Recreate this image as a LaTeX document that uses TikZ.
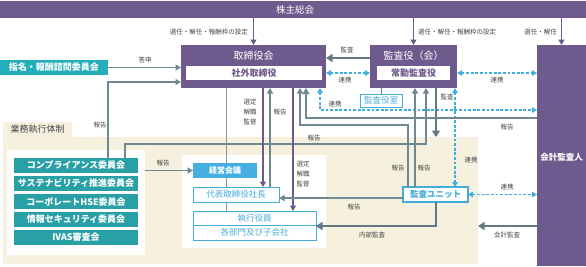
\documentclass[tikz,border=0pt]{standalone}
\usepackage{fontspec}
\setmainfont{Noto Sans CJK JP}
\usetikzlibrary{arrows.meta}
\pgfdeclarelayer{bg}
\pgfsetlayers{bg,main}
\definecolor{pur}{RGB}{110,90,140}
\definecolor{garr}{RGB}{112,136,146}
\definecolor{tarr}{RGB}{100,120,130}
\definecolor{cyd}{RGB}{60,175,225}
\definecolor{teal1}{RGB}{40,160,165}
\definecolor{teal2}{RGB}{35,175,185}
\definecolor{cyfill}{RGB}{70,175,225}
\definecolor{cyb}{RGB}{70,172,218}
\definecolor{tan}{RGB}{245,241,222}
\definecolor{labc}{RGB}{70,70,70}
\definecolor{thinl}{RGB}{140,150,155}
\begin{document}
\begin{tikzpicture}[x=1pt,y=-1pt,
  box/.style={inner sep=0pt, outer sep=0pt, anchor=north west},
  pbox/.style={box, fill=pur},
  wbox/.style={box, fill=white, text=pur, font=\fontsize{9}{10}\selectfont\bfseries},
  ttl/.style={inner sep=0pt, text=white, font=\fontsize{10}{11}\selectfont},
  cbox/.style={box, fill=teal1, text=white, font=\fontsize{9}{10}\selectfont\bfseries},
  obox/.style={box, fill=white, draw=cyb, line width=1pt, text=cyb, font=\fontsize{8.5}{10}\selectfont},
  lab/.style={inner sep=0pt, text=labc, font=\fontsize{6.5}{8}\selectfont},
  slab/.style={inner sep=0pt, text=labc, align=center, font=\fontsize{6.5}{10}\selectfont},
  parrow/.style={draw=pur, line width=1.8pt, -{Triangle[length=5.5pt,width=6pt]}},
  garrow/.style={draw=garr, line width=1.7pt, -{Triangle[length=5.5pt,width=6pt]}},
  marrow/.style={draw=garr, line width=2.3pt, -{Triangle[length=6pt,width=7pt]}},
  tarrow/.style={draw=tarr, line width=2.8pt, -{Triangle[length=6.5pt,width=8pt]}},
  darrow/.style={draw=cyd, line width=1.5pt, dash pattern=on 2.8pt off 1.8pt, {Triangle[length=5pt,width=5.5pt]}-{Triangle[length=5pt,width=5.5pt]}}
]
\useasboundingbox (0,0) rectangle (586,266);

% top bar
\node[pbox, minimum width=586, minimum height=17] (kabu) at (0,1) {};
\node[ttl, font=\fontsize{9.5}{11}\selectfont] (kabuT) at (295,10) {株主総会};

% board
\node[pbox, minimum width=145, minimum height=43] (tori) at (181,45) {};
\node[ttl] (toriT) at (253.5,55.5) {取締役会};
\node[wbox, minimum width=136, minimum height=14] (shagai) at (186,66) {社外取締役};

% auditors
\node[pbox, minimum width=87, minimum height=43] (kansa) at (370,45) {};
\node[ttl] (kansaT) at (413.5,55.5) {監査役（会）};
\node[wbox, minimum width=73, minimum height=14] (joukin) at (377,66) {常勤監査役};

% accounting auditor
\node[pbox, minimum width=49, minimum height=221] (kaikei) at (537,45) {};
\node[ttl, font=\fontsize{8.5}{10}\selectfont\bfseries] (kaikeiT) at (561.5,157) {会計監査人};

% nomination committee
\node[box, fill=teal2, text=white, font=\fontsize{9}{10}\selectfont\bfseries, minimum width=108, minimum height=15] (shimei) at (0,60) {指名・報酬諮問委員会};

% audit office
\node[obox, minimum width=42, minimum height=13, font=\fontsize{8.5}{10}\selectfont] (kshitsu) at (360,94) {監査役室};

% committees
\node[cbox, minimum width=124, minimum height=15] (comp) at (14,158) {コンプライアンス委員会};
\node[cbox, minimum width=124, minimum height=15] (sust) at (14,176) {サステナビリティ推進委員会};
\node[cbox, minimum width=124, minimum height=15] (corp) at (14,194) {コーポレートHSE委員会};
\node[cbox, minimum width=124, minimum height=15] (info) at (14,212) {情報セキュリティ委員会};
\node[cbox, minimum width=124, minimum height=15] (ivas) at (14,230) {IVAS審査会};

% execution
\node[box, fill=cyfill, text=white, font=\fontsize{8}{10}\selectfont\bfseries, minimum width=64, minimum height=15] (keiei) at (193,163) {経営会議};
\node[obox, minimum width=86, minimum height=15] (daihyo) at (193,187) {代表取締役社長};
\node[obox, minimum width=123, minimum height=14] (shikko) at (193,211) {執行役員};
\node[obox, minimum width=123, minimum height=15] (bumon) at (193,225) {各部門及び子会社};
\node[obox, line width=1.2pt, font=\fontsize{8.5}{10}\selectfont\bfseries, minimum width=65, minimum height=15] (unit) at (403,187) {監査ユニット};

\begin{pgfonlayer}{bg}
\node[box, fill=tan, minimum width=475, minimum height=127] (exec) at (3,137) {};
\node[box, fill=tan, text=labc, font=\fontsize{9}{10}\selectfont, minimum width=69, minimum height=15] (tab) at (3,122) {業務執行体制};
\node[box, fill=white, minimum width=138, minimum height=105] (lpanel) at (7,150) {};
\node[box, fill=white, minimum width=144, minimum height=93] (rpanel) at (182,155) {};
\draw[draw=thinl, line width=1pt] ([xshift=45pt]tori.south west) -- ([xshift=45pt]tori.south west |- shikko.north);
\end{pgfonlayer}

% shareholders arrows
\draw[parrow] (kabu.south -| tori.north) -- (tori.north);
\draw[parrow] (kabu.south -| kansa.north) -- (kansa.north);
\draw[parrow] (kabu.south -| kaikei.north) -- (kaikei.north);
\node[lab, anchor=east] (l1) at (248,32) {選任・解任・報酬枠の設定};
\node[lab, anchor=west] (l2) at (418,32) {選任・解任・報酬枠の設定};
\node[lab, anchor=east] (l3) at (557,32) {選任・解任};

% nomination -> board
\draw[garrow] (shimei.east) -- (shimei.east -| tori.west);
\node[lab] (l4) at (145,60) {答申};

% committees -> board
\draw[garrow] ([xshift=94pt]comp.north west) |- ([yshift=-37pt]tori.north west);
\node[lab] (l5) at (100,125) {報告};

% auditors -> board
\draw[tarrow] ([yshift=-13pt]kansa.north west) -- ([yshift=-13pt]kansa.north west -| tori.east);
\node[lab] (l6) at (347,50) {監査};

% cooperation
\draw[darrow] (shagai.east -| tori.east) -- (joukin.west -| kansa.west);
\node[lab] (l7) at (345,80) {連携};
\draw[darrow] (joukin.east -| kansa.east) -- (joukin.east -| kaikei.west);
\node[lab] (l8) at (497,80) {連携};
\draw[darrow] ([xshift=139pt]tori.south west) |- ([yshift=-65pt]kaikei.north west);
\node[lab] (l9) at (335,104) {連携};

% audit office link
\draw[draw=garr, line width=1pt] (kansa.south -| kshitsu.north) -- (kshitsu.north);

% audit to execution
\draw[tarrow] ([xshift=66pt]kansa.south west) -- ([xshift=66pt]kansa.south west |- exec.north);
\node[lab] (l10) at (447,97) {監査};

% auditors <-> audit unit
\draw[darrow] ([xshift=85pt]kansa.south west) -- ([xshift=85pt]kansa.south west |- unit.north);
\node[lab] (l11) at (471,160) {連携};

% accounting auditor report to board
\draw[marrow] ([yshift=-73pt]kaikei.north west) -| ([xshift=125pt]tori.south west);
\node[lab] (l12) at (507,127) {報告};

% audit unit reports
\draw[garrow] ([xshift=5pt]unit.north west) |- ([xshift=119pt,yshift=-37pt]tori.south west) -- ([xshift=119pt]tori.south west);
\node[lab] (l13) at (398,168) {報告};
\draw[garrow] ([xshift=12pt]unit.north west) -- ([xshift=12pt]unit.north west |- kansa.south);
\node[lab] (l14) at (424,168) {報告};

% committees -> auditors
\draw[garrow] ([xshift=111pt]comp.north west) |- ([xshift=56pt,yshift=-56pt]kansa.south west) -- ([xshift=56pt]kansa.south west);
\node[lab] (l15) at (314,138) {報告};

% president <-> board
\draw[garrow] ([xshift=89pt]tori.south west |- daihyo.north) -- ([xshift=89pt]tori.south west);
\node[lab] (l16) at (280,112) {報告};
\draw[parrow] ([xshift=82pt]tori.south west) -- ([xshift=82pt]tori.south west |- daihyo.north);
\node[slab] (l17) at (250,112) {選定\\解職\\監督};
\draw[parrow] ([xshift=112pt]tori.south west) -- ([xshift=112pt]tori.south west |- shikko.north);
\node[slab] (l18) at (303,174) {選定\\解職\\監督};

% committees -> management meeting
\draw[garrow] (lpanel.east |- keiei.west) -- (keiei.west);
\node[lab] (l19) at (163,163) {報告};

% audit unit -> president
\draw[garrow] ([yshift=-11pt]unit.north west) -- ([yshift=-11pt]unit.north west -| daihyo.east);
\node[lab] (l20) at (354,207) {報告};

% internal audit
\draw[tarrow] ([xshift=33pt]unit.south west) |- ([yshift=-15pt]shikko.north east);
\node[lab] (l21) at (372,235) {内部監査};

% accounting audit
\draw[tarrow] ([yshift=-181pt]kaikei.north west) -- ([yshift=-181pt]kaikei.north west -| exec.east);
\node[lab] (l22) at (507,235) {会計監査};

% audit unit <-> accounting auditor
\draw[darrow] (unit.east) -- (unit.east -| kaikei.west);
\node[lab] (l23) at (507,187) {連携};
\end{tikzpicture}
\end{document}
